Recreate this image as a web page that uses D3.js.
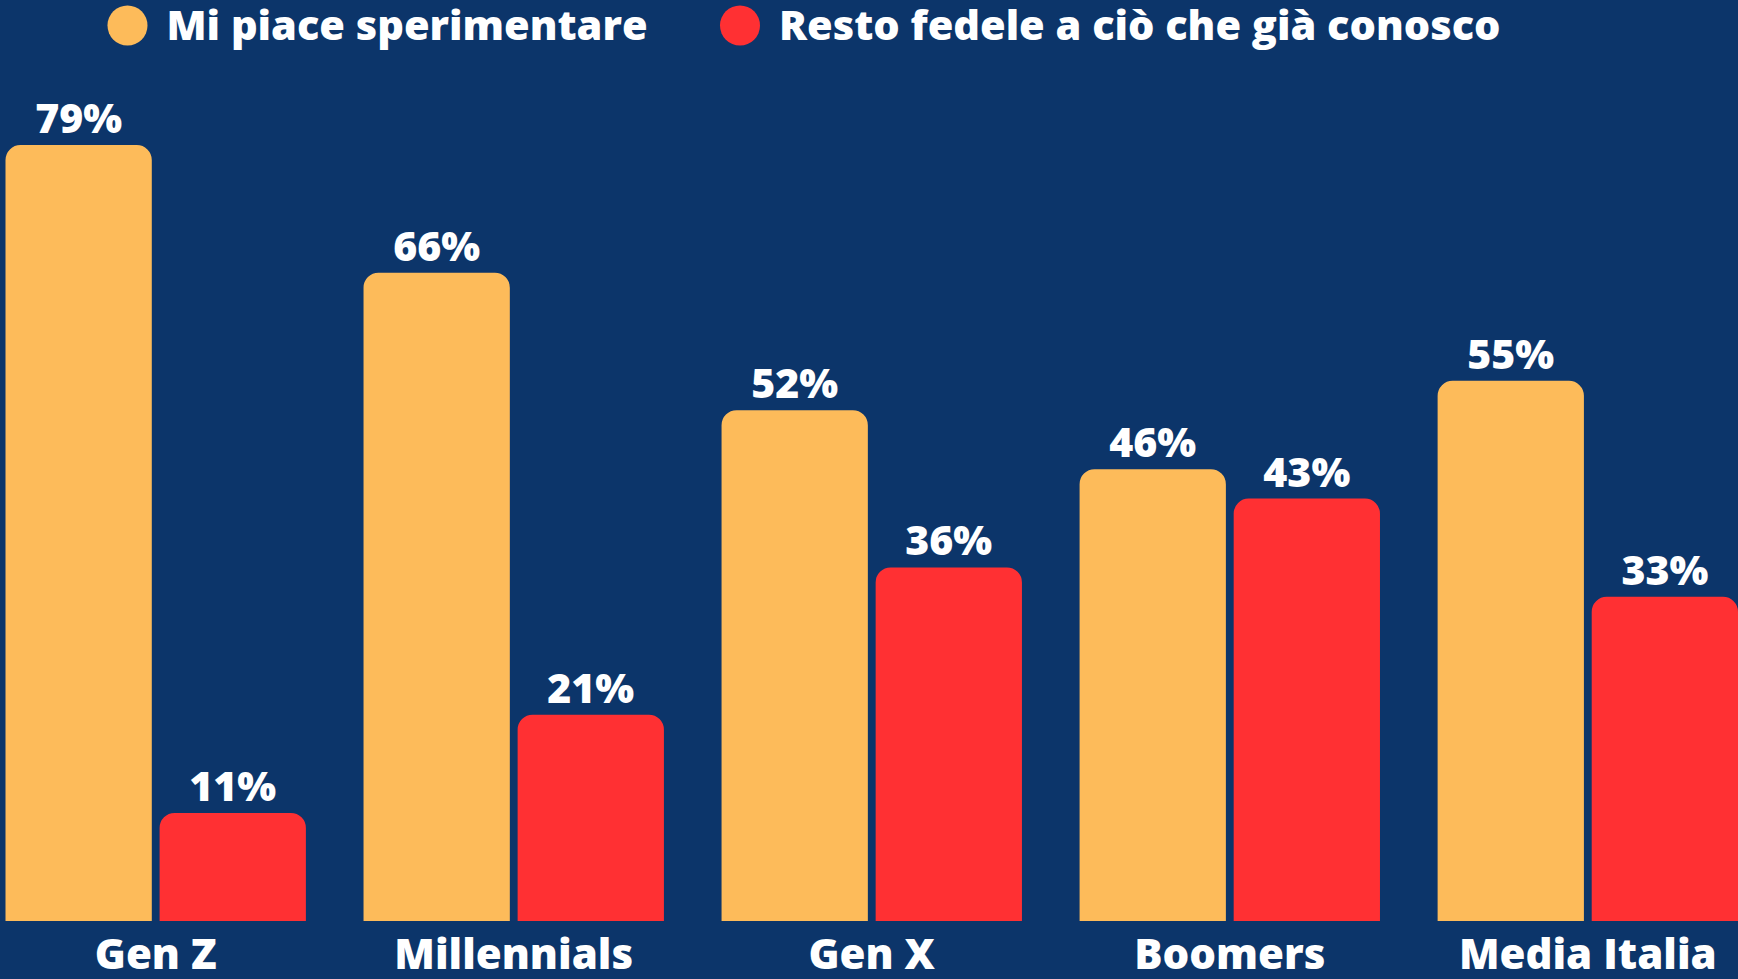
<!DOCTYPE html>
<html>
<head>
<meta charset="utf-8">
<script src="https://cdn.jsdelivr.net/npm/d3@7"></script>
<style>
  html, body { margin: 0; padding: 0; background: #0c356a; overflow: hidden; }
  svg { display: block; }
  text { font-family: "Open Sans", "Noto Sans", sans-serif; font-weight: 800; fill: #fff; }
</style>
</head>
<body>
<svg id="chart"></svg>
<script>
const categories = ['Gen Z', 'Millennials', 'Gen X', 'Boomers', 'Media Italia'];
const seriesNames = ['Mi piace sperimentare', 'Resto fedele a ciò che già conosco'];
const sperimentare = [79, 66, 52, 46, 55];
const fedele = [11, 21, 36, 43, 33];
const colors = ['#fdbb5a', '#ff3033'];

const width = 1738;
const height = 979;
const baseY = 921;
const radius = 15;

const svg = d3.select('#chart')
  .attr('width', width)
  .attr('height', height);

svg.append('rect')
  .attr('width', width)
  .attr('height', height)
  .attr('fill', '#0c356a');

const x0 = d3.scaleBand()
  .domain(categories)
  .range([5.5, width])
  .paddingInner(0.161)
  .paddingOuter(0);

const x1 = d3.scaleBand()
  .domain(seriesNames)
  .range([0, x0.bandwidth()])
  .paddingInner(0.0506)
  .paddingOuter(0);

const y = d3.scaleLinear()
  .domain([0, 79])
  .range([baseY, 145]);

const rows = categories.map((c, i) => ({
  cat: c,
  vals: [
    { key: seriesNames[0], v: sperimentare[i], color: colors[0] },
    { key: seriesNames[1], v: fedele[i], color: colors[1] }
  ]
}));

function topRounded(x, yTop, w, h, r) {
  const p = d3.path();
  p.moveTo(x, yTop + h);
  p.lineTo(x, yTop + r);
  p.arcTo(x, yTop, x + r, yTop, r);
  p.lineTo(x + w - r, yTop);
  p.arcTo(x + w, yTop, x + w, yTop + r, r);
  p.lineTo(x + w, yTop + h);
  p.closePath();
  return p.toString();
}

const groups = svg.selectAll('g.group')
  .data(rows)
  .enter()
  .append('g')
  .attr('class', 'group')
  .attr('transform', d => 'translate(' + x0(d.cat) + ',0)');

groups.selectAll('path')
  .data(d => d.vals)
  .enter()
  .append('path')
  .attr('fill', d => d.color)
  .attr('d', d => topRounded(x1(d.key), y(d.v), x1.bandwidth(), baseY - y(d.v), radius));

groups.selectAll('text.val')
  .data(d => d.vals)
  .enter()
  .append('text')
  .attr('class', 'val')
  .attr('x', d => x1(d.key) + x1.bandwidth() / 2)
  .attr('y', d => y(d.v) - 12)
  .attr('text-anchor', 'middle')
  .style('font-size', '41px')
  .text(d => d.v + '%');

// category labels, close to the bottom edge
groups.append('text')
  .attr('x', x0.bandwidth() / 2)
  .attr('y', 969)
  .attr('text-anchor', 'middle')
  .style('font-size', '42px')
  .text(d => d.cat);

// legend
const legendX = [127.5, 740];
const legend = svg.selectAll('g.legend')
  .data(seriesNames)
  .enter()
  .append('g')
  .attr('class', 'legend')
  .attr('transform', (d, i) => 'translate(' + legendX[i] + ',25.5)');

legend.append('circle')
  .attr('r', 20)
  .attr('fill', (d, i) => colors[i]);

legend.append('text')
  .attr('x', 39)
  .attr('y', 14.5)
  .style('font-size', '41.5px')
  .text(d => d);
</script>
</body>
</html>
